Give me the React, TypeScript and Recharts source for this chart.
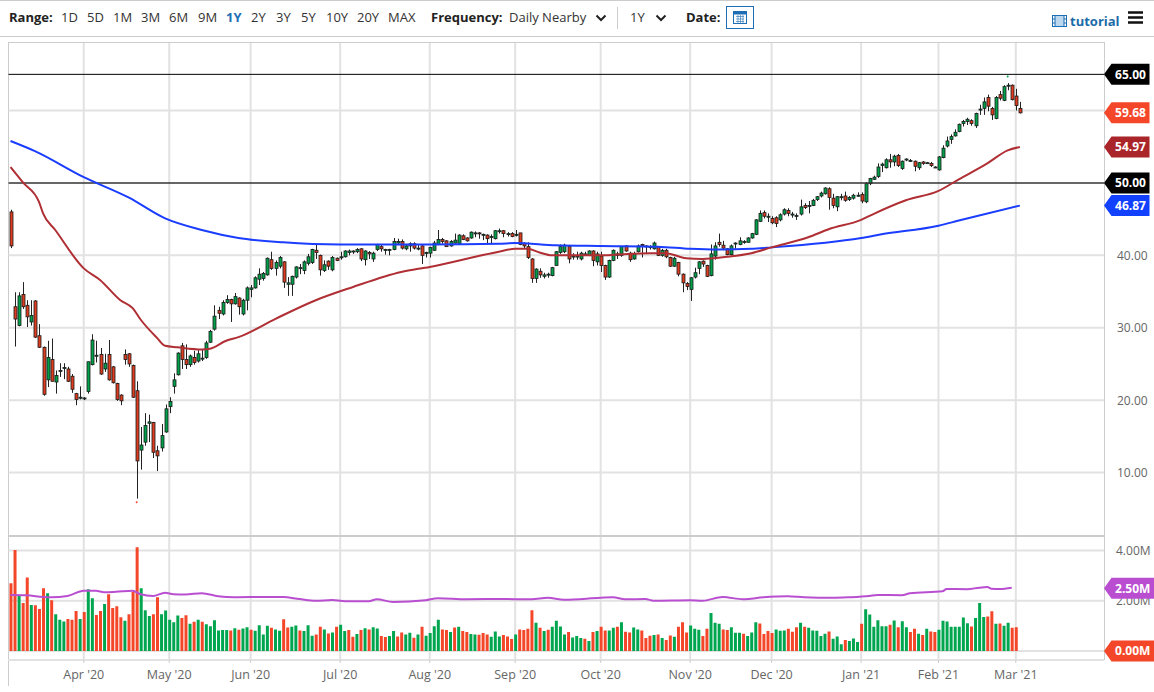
import { Bar, CartesianGrid, Cell, ComposedChart, Line, ReferenceDot, ReferenceLine, XAxis, YAxis } from 'recharts'

// ── Prix ─────────────────────────────────────────────────────
const opens = [
  46,32.9,30.3,34.6,33.1,30.8,33.7,28.9,27.3,22.8,
  25.6,22.5,24,24.5,24.3,23.3,20.9,20.3,20.2,21.2,
  24.9,26.1,26.3,24.3,26.3,24.6,22.3,20.7,26.3,26.4,
  24.8,21.3,13.1,14.2,16.8,16.9,13,13.4,15.6,19.1,
  21.9,23.5,27.5,25.6,24.9,25.9,25.4,25.8,25.9,28,
  29.8,32.4,31.9,33.5,33.9,33.3,34.1,31.9,33.8,35.3,
  35.5,36.7,36.8,37.3,39.4,38.2,38.5,39.1,36,36,
  37,38.2,37.9,38.9,39,40.7,40,37.9,39.2,38,
  39.6,39.8,39.8,40.4,40.6,40.5,40.9,39.4,40.4,39.5,
  40.8,41.2,40.8,40.8,40.8,41.7,41.9,40.9,41.3,41.6,
  41,41.3,40.4,40.3,40.7,41.5,42.2,42,41.3,41.7,
  41.6,42.7,42.4,42.4,43.1,43.1,42.9,42.8,42.6,42.3,
  43.4,43.4,43,43,42.9,43.1,41.6,41.2,39.5,36.8,
  37.8,37.1,37.4,37.2,38.6,40.4,40.5,41.2,39.9,39.9,
  39.5,40.2,40,40.6,39.1,39.9,38.6,37,39.3,40,
  40,41.3,40.3,39.5,40.5,41.5,41.3,41.2,40.9,41.2,
  40,40.7,39.7,38.5,39,37.4,36.1,35.3,37,38.2,
  39.2,38.6,37.2,39.9,41.8,41.4,40.9,40.1,41.6,41.5,
  41.9,41.8,42.4,42.9,44.7,45.9,45.3,45.1,45.2,44.9,
  45.7,46.2,45.7,45.5,45.7,46.9,46.8,46.9,47.7,48.2,
  48.5,49.2,47.9,46.7,48.1,48.2,47.7,47.9,48.3,48.4,
  47.4,49.9,50.5,50.9,52.4,52.1,53.2,52.9,53.8,52,
  53.3,53.1,53,52.1,52.9,52.8,52.7,52.2,51.8,53.5,
  55.1,56,56.5,57.1,58.2,58.5,58.6,57.9,60.2,60.3,
  61.8,60.3,58.9,62.2,61.4,63.5,63.5,62,60.3,
]
const closes = [
  41.3,31.2,34.4,32.9,31.5,31.7,28.7,27.3,20.8,25.9,
  22.6,23.4,24.1,24.5,22.6,21.5,20.1,20.4,20.3,25.3,
  28.3,26.2,23.6,25.1,22.8,22.4,20.1,19.9,25.6,25,
  20.4,11.6,13.8,16.5,17,12.8,12.3,15.1,18.8,19.8,
  22.8,26.5,25.6,24.9,26.1,25.2,26.4,25.8,27.9,29.5,
  31.6,32,33.5,33.9,33.3,34.3,32.9,33.8,35.5,35.5,
  36.9,37.4,37.5,39.6,38.2,39,39.7,36.3,36.2,37.1,
  38.4,38.3,39.1,39.8,40.8,40.4,38,38.7,38.5,39.7,
  39.3,39.8,40.6,40.6,40.6,40.8,39.5,40.6,40.2,40.3,
  41.5,40.9,40.8,40.8,41.9,41.9,41,41.3,41.6,41,
  41,40,40.4,41.1,41.7,42.2,41.9,41.2,41.9,42.1,
  42.8,42.2,42,43.2,43.1,43,42.9,42.3,42.6,43.4,
  43.4,43,43,42.6,42.9,41.5,41.3,39.7,36.8,38.1,
  37.3,37.3,37.4,38.3,40.5,41.2,41.4,39.5,39.9,39.9,
  40.3,40.2,40.6,39.3,40.2,38.6,37,39.3,40.7,40.2,
  41.2,40.6,39.4,40.2,41.3,41.3,41.3,41.2,41.7,40,
  40.7,39.8,38.5,39.6,37.4,36.2,35.7,36.9,37.6,39.1,
  38.8,37.1,40.2,41.3,41.5,41,40.1,41.3,41.7,42,
  41.9,42.4,43,44.9,45.8,45.4,45.4,44.5,44.4,45.6,
  46.3,45.8,45.7,45.5,46.7,46.6,46.9,47.6,48.1,48.6,
  49.3,48,46.9,48.1,48.1,47.6,48,48.3,48.3,47.5,
  49.9,50.6,50.8,52.2,52.6,53.2,52.9,53.7,52.4,53,
  53.3,53.1,52.3,52.8,52.7,52.8,52.4,52.2,53.6,54.8,
  55.8,56.4,57,58.1,58.5,58.8,58.2,59.6,60.2,61.2,
  60.6,59.4,61.8,61.7,63.3,63.5,61.5,60.7,59.68,
]
const highs = [
  46.3,34.9,34.9,36.3,33.8,33.8,33.8,30.5,27.4,28.2,
  28.5,24.1,25.1,25.1,24.6,23.6,21,21.9,20.4,25.3,
  29.1,28.2,27.2,26.4,28.3,24.7,22.4,20.8,27,26.5,
  24.9,22.6,16.3,18.2,18,17,13.7,16.7,19.4,20.4,
  23.7,26.6,27.9,27.7,26.3,26.8,26.9,27,28.2,29.7,
  33.1,32.9,33.8,34.5,34,34.8,34.2,34,35.7,35.9,
  37.1,38.2,37.7,39.7,40.5,39.3,39.9,39.2,37,37.2,
  38.5,38.8,39.3,40.2,40.9,41.6,40.1,39.3,39.3,39.9,
  39.7,40.5,40.7,40.8,40.7,41,41,40.7,40.6,40.5,
  41.6,41.5,40.9,40.9,42.4,42.3,42.2,41.5,41.8,41.8,
  41.5,41.4,40.5,41.2,42,43.5,42.4,42.1,42.1,43,
  42.9,42.9,42.5,43.3,43.3,43.2,43,42.9,42.9,43.5,
  43.7,43.5,43.2,43.2,43.5,43.1,41.8,41.8,39.6,38.2,
  38.2,37.6,37.6,38.4,40.6,41.5,41.6,41.3,40.3,40.5,
  40.5,40.5,40.7,40.7,40.5,40.5,38.7,39.4,40.8,40.5,
  41.2,41.4,40.5,40.5,41.5,41.6,41.4,41.4,41.9,41.2,
  40.9,40.9,39.8,39.8,39.1,37.5,36.3,37,38.3,39.2,
  39.3,38.7,41.5,41.8,43,42,41,41.5,41.8,42.5,
  42.1,42.5,43.1,45,46.2,46.2,45.8,45.4,45.4,45.8,
  46.5,46.5,46,45.8,47.7,47.2,47.5,47.8,48.2,48.8,
  49.4,49.4,48.5,48.2,48.5,48.8,48.2,48.5,48.7,48.7,
  50.1,50.7,51,52.7,52.8,53.4,54,53.9,54,53.1,
  53.4,53.3,53.1,52.9,53,52.9,52.9,52.3,53.7,55.2,
  56.4,56.7,57.4,58.2,58.7,59,58.8,59.7,60.8,61.8,
  62.2,60.5,62,62.7,63.5,63.8,63.6,63,61.2,
]
const lows = [
  41,27.4,30.2,32.6,30.1,30.3,28.6,27.2,20.6,21.8,
  22.6,20.9,23.2,22.9,22.5,21,19.3,20.1,20,20.9,
  24.8,25.2,23.5,23.9,22.7,22.3,19.9,19.3,24.9,24.6,
  20.3,6.4,10.4,13.7,14.2,12,10.2,12.9,15.5,18.2,
  20.9,23.4,24.3,24.3,24.6,24.9,25.2,25.4,25.7,27.9,
  29.6,31.2,31.7,33.3,30.8,33.2,31.8,31.7,32.4,34.2,
  35.4,35.9,36.5,37.2,38,37.2,38.2,35.5,34.4,34.4,
  36.8,37.4,37.4,38.6,38.8,39.5,37.2,37.7,38,37.8,
  39.2,39.4,39.7,40,40.2,40.3,39.2,38.6,39.5,39.1,
  40.6,40.5,40.1,40,40.7,41.4,40.8,40.7,40.5,40.8,
  40.7,38.8,39.7,39.7,40.6,41.4,41.6,41.2,41.2,41.6,
  41.5,42.1,41.9,42.3,42.5,42.3,42.1,41.5,41.6,42.2,
  43,42.5,42.6,42.5,42.6,41.4,40.9,39.5,36.2,36.2,
  36.9,36.8,36.9,37.1,38.6,40.2,40.3,38.9,39.4,39.4,
  39.3,40,39.9,38.5,38.6,37.7,36.6,36.9,39.2,39.5,
  39.8,40.5,39.1,39.4,40.4,39.7,40.3,40.8,40.8,39.9,
  39.8,39.6,38.4,38.4,37.1,34.9,35.2,33.7,36.8,37.4,
  38.4,37,37.1,39.4,41.2,40.7,40,40,40.9,41.4,
  41.6,41.8,42.3,42.8,44.6,45.1,44.6,44.3,43.9,44.7,
  45.5,45.4,45.2,44.9,45.5,46.4,45.8,46.8,47.5,48,
  48.4,46.3,46.5,46.1,47.6,47.4,47.5,47.7,48.1,47.2,
  47.2,49.7,50.4,50.7,51.5,52,52.1,52.3,52.2,51.8,
  53,52.9,51.6,51.8,52.5,52.7,52.2,52.1,51.7,53.4,
  54.9,55.4,56.4,57,57.8,58,57.9,57.6,59.4,59.4,
  59.9,58.7,58.8,61.4,61.3,62.8,61.4,60,59.6,
]

// Moyennes mobiles, lues aux points où la courbe change de pente
const ma50Idx = [0,3,7,8,11,18,22,27,30,32,36,38,41,47,49,53,56,65,75,84,96,103,120,124,127,130,133,145,149,157,161,166,170,176,182,187,196,201,209,212,220,228,233,240,245,248]
const ma50Val = [52.2,50.1,47.4,45.8,43.5,38.2,36.6,33.8,32.7,31.1,28.6,27.5,27.3,27,27.1,28.2,28.7,31.2,33.8,35.6,37.7,38.4,40.5,40.9,40.9,40.4,40,40,40.1,40.3,40.3,39.6,39.5,39.8,40.3,41.1,42.5,43.6,44.9,45.7,47.6,48.9,50.5,52.7,54.5,54.97]
const ma200Idx = [0,6,18,29,38,47,56,67,81,103,120,124,134,145,159,167,174,182,187,209,214,228,233,248]
const ma200Val = [55.8,54.4,50.8,48,45.1,43.5,42.4,41.8,41.5,41.5,41.6,41.7,41.4,41.3,41.2,40.9,40.8,40.9,41.1,42.4,42.9,44.1,44.8,46.87]

// ── Volume (millions) ────────────────────────────────────────
const volumes = [
  2.7,4.02,2.2,1.91,2.93,1.83,1.82,1.67,2.5,2.3,
  2.02,1.46,1.24,1.17,1.27,1.24,1.59,1.27,1.55,2.46,
  2.1,1.43,1.59,1.87,2.26,1.71,1.78,1.34,1.2,1.46,
  2.36,4.13,2.5,1.62,1.39,1.46,2.14,1.46,1.61,1.24,
  1.14,1.41,1.31,1.42,1.08,1.16,1.24,1.16,1.06,.98,
  1.22,.82,.84,.84,.82,.9,.85,.89,.94,.85,
  .81,1.02,.66,1,.92,.86,.81,1.26,.93,.96,
  1.01,.82,.8,1.02,.61,.66,.96,.86,.7,.74,
  .96,1.04,.8,.84,.57,.68,.84,.9,.86,.94,
  .89,.6,.56,.6,.8,.58,.74,.66,.73,.53,
  .66,.96,.61,.72,.98,1.24,.86,.84,.76,.93,
  .96,.8,.76,.68,.66,.65,.72,.66,.57,.78,
  .58,.64,.58,.48,.66,.86,.84,.88,1.62,1.12,
  .92,.8,.85,.96,1.2,.97,.66,.76,.54,.6,
  .52,.49,.4,.76,.8,.96,.82,.82,.92,.96,
  1.14,.77,.74,.93,.86,.82,.52,.61,.64,.66,
  .52,.44,.62,.57,.96,1.14,.74,1.01,.88,.85,
  .6,.88,1.51,1.12,1.08,.86,.84,.94,.73,.73,
  .69,.6,.74,1.14,1.09,.68,.8,.72,.86,.81,
  .82,.88,.77,.94,1.12,.96,.92,.82,.81,.6,
  .69,.78,.49,.58,.27,.44,.4,.5,.36,1.08,
  1.66,1.45,.96,1.22,.98,.98,1.04,1.21,.94,1.18,
  .94,.76,.88,.69,.64,.88,.78,.76,.85,1.2,
  1.17,.96,.96,.96,1.33,1.1,.97,1.31,1.91,1.35,
  1.37,1.58,1.08,1.09,1,1.12,.92,.94,
]
const volumeSides = [
  'rrgrrgrrrg','rgggrrrgrg','grrgrrrrgr','rrgggrrggg','ggrrgrgrgg',
  'ggggrgrggr','ggggrggrrg','grgggrrgrg','rggrrgrgrg','grrggrrggr',
  'grggggrrgr','grrggrrrgg','grrrgrrrrg','rgrggggrgg','grgrgrrggr',
  'grrggrrrgr','grrgrrrggg','rrgggrrggg','rgggrrrrgg','grrrgrgggg',
  'grgggrgggr','ggggggrgrg','grrgrgrrgg','ggggggrggg','rrgrggrr',
].join('')
const volMaIdx = [0,4,8,10,14,18,21,23,26,30,32,35,38,40,43,47,51,55,63,67,71,75,79,83,88,90,94,102,105,112,120,128,132,136,145,148,151,156,158,167,170,175,180,185,191,195,202,206,211,213,219,221,229,230,235,238,240,241,243,246]
const volMaVal = [2.23,2.22,2.15,2.14,2.19,2.4,2.4,2.34,2.36,2.4,2.26,2.19,2.32,2.26,2.25,2.3,2.18,2.14,2.15,2.15,2.07,2,2.03,1.98,1.98,2.06,1.95,2.02,2.1,2.06,2.07,2.06,2.12,2.04,2.12,2.14,2.06,2.07,2,2.02,2,2.15,2.06,2.14,2.18,2.14,2.12,2.14,2.19,2.23,2.22,2.3,2.38,2.47,2.46,2.52,2.55,2.48,2.47,2.52]

// ── Axes ─────────────────────────────────────────────────────
const monthIdx = [18,39,59,81,103,124,145,167,187,209,228,247]
const monthLabels = ["Apr '20","May '20","Jun '20","Jul '20","Aug '20","Sep '20","Oct '20","Nov '20","Dec '20","Jan '21","Feb '21","Mar '21"]
const priceGrid = [10,20,30,40,60]
const priceTicks = [10,20,30,40,65,59.68,54.97,50,46.87]
const volumeGrid = [0,2,4]
const volumeTicks = [4,2,2.5,0]
const rangeItems: [string, number][] = [['1D',61],['5D',87],['1M',113],['3M',141],['6M',169],['9M',198],['1Y',226],['2Y',251],['3Y',276],['5Y',301],['10Y',326],['20Y',357],['MAX',388]]

const X_DOMAIN: [number, number] = [-0.491, 268.67]
const GREEN = '#00a64f'
const RED = '#f4472a'
const GRID = '#e2e2e2'
const FONT = '"Open Sans", sans-serif'

const priceTagColors: Record<string, string> = {
  '65': '#000000',
  '59.68': RED,
  '54.97': '#aa2529',
  '50': '#000000',
  '46.87': '#1140ff',
}
const volumeTagColors: Record<string, string> = { '2.5': '#b94fd0', '0': RED }

const sparse = (idx: number[], val: number[], i: number) => {
  const k = idx.indexOf(i)
  return k < 0 ? null : val[k]
}

const priceData = opens.map((open, i) => ({
  i,
  open,
  close: closes[i],
  high: highs[i],
  low: lows[i],
  range: [lows[i], highs[i]],
  ma50: sparse(ma50Idx, ma50Val, i),
  ma200: sparse(ma200Idx, ma200Val, i),
}))

const volumeData = opens.map((_, i) => ({
  i,
  volume: i < volumes.length ? volumes[i] : null,
  volMa: sparse(volMaIdx, volMaVal, i),
}))

// ── Bougie : la barre [low, high] donne l'échelle, le corps en découle ──
function Candle(props: any) {
  const { x, y, width, height, payload } = props
  if (!payload || !height) return null
  const cx = Math.round(x + width / 2) + 0.5
  const perUnit = height / (payload.high - payload.low)
  const top = y + (payload.high - Math.max(payload.open, payload.close)) * perUnit
  const bodyH = Math.max(Math.abs(payload.open - payload.close) * perUnit, 1)
  const up = payload.close >= payload.open
  return (
    <g>
      <line x1={cx} x2={cx} y1={y} y2={y + height} stroke="#222" strokeWidth={1} />
      <rect x={cx - 1.5} y={top} width={3} height={bodyH} fill={up ? '#00a04a' : '#dc3d20'} stroke="#1a1a1a" strokeWidth={0.8} />
    </g>
  )
}

function AxisTag({ x, y, text, color, right }: { x: number; y: number; text: string; color: string; right: number }) {
  const points = `${x},${y} ${x + 7.5},${y - 10.5} ${right},${y - 10.5} ${right},${y + 10.5} ${x + 7.5},${y + 10.5}`
  return (
    <g>
      <polygon points={points} fill={color} />
      <text x={(x + 7.5 + right) / 2} y={y + 4.5} textAnchor="middle" fill="#fff" fontSize={12} fontWeight={700} fontFamily={FONT}>
        {text}
      </text>
    </g>
  )
}

function PriceTick({ x, y, payload }: any) {
  const v = payload.value
  const label = v.toFixed(2)
  const color = priceTagColors[String(v)]
  if (color) return <AxisTag x={x} y={y} text={label} color={color} right={1149.5} />
  return <text x={x + 13} y={y + 4.5} fill="#666" fontSize={12} fontFamily={FONT}>{label}</text>
}

function VolumeTick({ x, y, payload }: any) {
  const v = payload.value
  const label = `${v.toFixed(2)}M`
  const color = volumeTagColors[String(v)]
  if (color) return <AxisTag x={x} y={y} text={label} color={color} right={1154} />
  return <text x={x + 12} y={y + 4.5} fill="#666" fontSize={12} fontFamily={FONT}>{label}</text>
}

// ── Barre d'outils ───────────────────────────────────────────
function Label({ left, children, style }: { left: number; children: any; style?: any }) {
  return <span style={{ position: 'absolute', left, top: 8, fontSize: 13, lineHeight: '18px', color: '#333', whiteSpace: 'nowrap', ...style }}>{children}</span>
}

function Chevron({ left }: { left: number }) {
  return (
    <svg style={{ position: 'absolute', left, top: 14 }} width={12} height={8}>
      <path d="M1.5 1.5 L6 6 L10.5 1.5" fill="none" stroke="#222" strokeWidth={2} />
    </svg>
  )
}

function Toolbar() {
  return (
    <div style={{ position: 'absolute', left: 0, top: 0, width: 1154, height: 37, fontFamily: FONT }}>
      <div style={{ position: 'absolute', left: 0, top: 0, width: 1154, height: 1, background: '#ccc' }} />
      <div style={{ position: 'absolute', left: 0, top: 36, width: 1154, height: 1, background: '#ccc' }} />
      <Label left={9} style={{ fontWeight: 700, color: '#222' }}>Range:</Label>
      {rangeItems.map(([t, left]) => (
        <Label key={t} left={left} style={t === '1Y' ? { color: '#1d6fb5', fontWeight: 700 } : undefined}>{t}</Label>
      ))}
      <Label left={431} style={{ fontWeight: 700, color: '#222' }}>Frequency:</Label>
      <Label left={509}>Daily Nearby</Label>
      <Chevron left={595} />
      <div style={{ position: 'absolute', left: 617, top: 7, width: 1, height: 22, background: '#ccc' }} />
      <Label left={630}>1Y</Label>
      <Chevron left={655} />
      <Label left={686} style={{ fontWeight: 700, color: '#222' }}>Date:</Label>
      <svg style={{ position: 'absolute', left: 726, top: 6 }} width={28} height={23}>
        <rect x={0.5} y={0.5} width={27} height={22} fill="#fff" stroke="#1d6fb5" />
        <rect x={7.5} y={5.5} width={13} height={12} fill="#fff" stroke="#1d6fb5" />
        <rect x={7.5} y={5.5} width={13} height={3} fill="#1d6fb5" />
        <path d="M10 10.5h8M10 13h8M10 15.5h8M12 9v8M14.5 9v8M17 9v8" stroke="#1d6fb5" strokeWidth={0.6} />
      </svg>
      <svg style={{ position: 'absolute', left: 1052, top: 15 }} width={15} height={12}>
        <rect x={0.5} y={0.5} width={14} height={11} fill="none" stroke="#1d6fb5" />
        <rect x={3} y={0.5} width={9} height={11} fill="#bcd8ee" stroke="#1d6fb5" />
        <path d="M0 4h3M0 8h3M12 4h3M12 8h3" stroke="#1d6fb5" />
      </svg>
      <span style={{ position: 'absolute', left: 1070, top: 12, fontSize: 13, lineHeight: '18px', fontWeight: 700, color: '#1a6ca8' }}>tutorial</span>
      <svg style={{ position: 'absolute', left: 1128, top: 11 }} width={15} height={13}>
        <path d="M0 1.5h15M0 6.5h15M0 11.5h15" stroke="#111" strokeWidth={2.4} />
      </svg>
    </div>
  )
}

// ── Composant principal ──────────────────────────────────────
export default function App() {
  return (
    <div style={{ position: 'absolute', left: 0, top: 0, width: 1154, height: 692, overflow: 'hidden', background: '#fff' }}>
      <Toolbar />

      {/* Cadre */}
      <div style={{ position: 'absolute', left: 8, top: 42, width: 1096, height: 1, background: '#ccc' }} />
      <div style={{ position: 'absolute', left: 8, top: 42, width: 1, height: 644, background: '#ccc' }} />
      <div style={{ position: 'absolute', left: 1104, top: 42, width: 1, height: 618, background: '#ccc' }} />
      <div style={{ position: 'absolute', left: 8, top: 535, width: 1096, height: 2, background: '#ccc' }} />
      <div style={{ position: 'absolute', left: 8, top: 659, width: 1096, height: 2, background: GRID }} />

      <div style={{ position: 'absolute', left: 0, top: 0 }}>
        <ComposedChart width={1154} height={535} data={priceData} margin={{ top: 43, right: 0, bottom: 0, left: 8.5 }} barCategoryGap={0}>
          <CartesianGrid horizontalValues={priceGrid} verticalValues={monthIdx} stroke={GRID} strokeWidth={2} />
          <XAxis dataKey="i" type="number" domain={X_DOMAIN} hide allowDataOverflow />
          <YAxis
            orientation="right"
            width={50}
            domain={[1.37, 69.33]}
            ticks={priceTicks}
            interval={0}
            axisLine={false}
            tickLine={false}
            tickSize={0}
            tickMargin={0}
            tick={<PriceTick />}
            allowDataOverflow
          />
          <ReferenceLine y={65} stroke="#000" strokeWidth={1} />
          <ReferenceLine y={50} stroke="#333" strokeWidth={1.4} />
          <Line dataKey="ma200" stroke="#1a3dff" strokeWidth={2} dot={false} connectNulls type="monotone" isAnimationActive={false} />
          <Line dataKey="ma50" stroke="#b02f35" strokeWidth={2} dot={false} connectNulls type="monotone" isAnimationActive={false} />
          <Bar dataKey="range" barSize={3} shape={<Candle />} isAnimationActive={false} />
          <ReferenceDot x={31} y={5.9} r={1} fill={RED} stroke="none" />
          <ReferenceDot x={245} y={64.7} r={1} fill={GREEN} stroke="none" />
        </ComposedChart>
      </div>

      <div style={{ position: 'absolute', left: 0, top: 537 }}>
        <ComposedChart width={1154} height={155} data={volumeData} margin={{ top: 0, right: 0, bottom: 0, left: 8.5 }}>
          <CartesianGrid horizontalValues={volumeGrid} verticalValues={monthIdx} stroke={GRID} strokeWidth={2} />
          <XAxis
            dataKey="i"
            type="number"
            domain={X_DOMAIN}
            ticks={monthIdx}
            interval={0}
            height={32}
            axisLine={false}
            tickSize={3}
            tickMargin={7}
            tickLine={{ stroke: '#ccc' }}
            tick={{ fill: '#666', fontSize: 12.5, fontFamily: FONT }}
            tickFormatter={(v: number) => monthLabels[monthIdx.indexOf(v)]}
            allowDataOverflow
          />
          <YAxis
            orientation="right"
            width={50}
            domain={[-0.36, 4.54]}
            ticks={volumeTicks}
            interval={0}
            axisLine={false}
            tickLine={false}
            tickSize={0}
            tickMargin={0}
            tick={<VolumeTick />}
            allowDataOverflow
          />
          <Bar dataKey="volume" barSize={3} isAnimationActive={false}>
            {volumeData.map((d) => (
              <Cell key={d.i} fill={volumeSides[d.i] === 'g' ? GREEN : RED} />
            ))}
          </Bar>
          <Line dataKey="volMa" stroke="#b94fd0" strokeWidth={2} dot={false} connectNulls type="monotone" isAnimationActive={false} />
        </ComposedChart>
      </div>
    </div>
  )
}
